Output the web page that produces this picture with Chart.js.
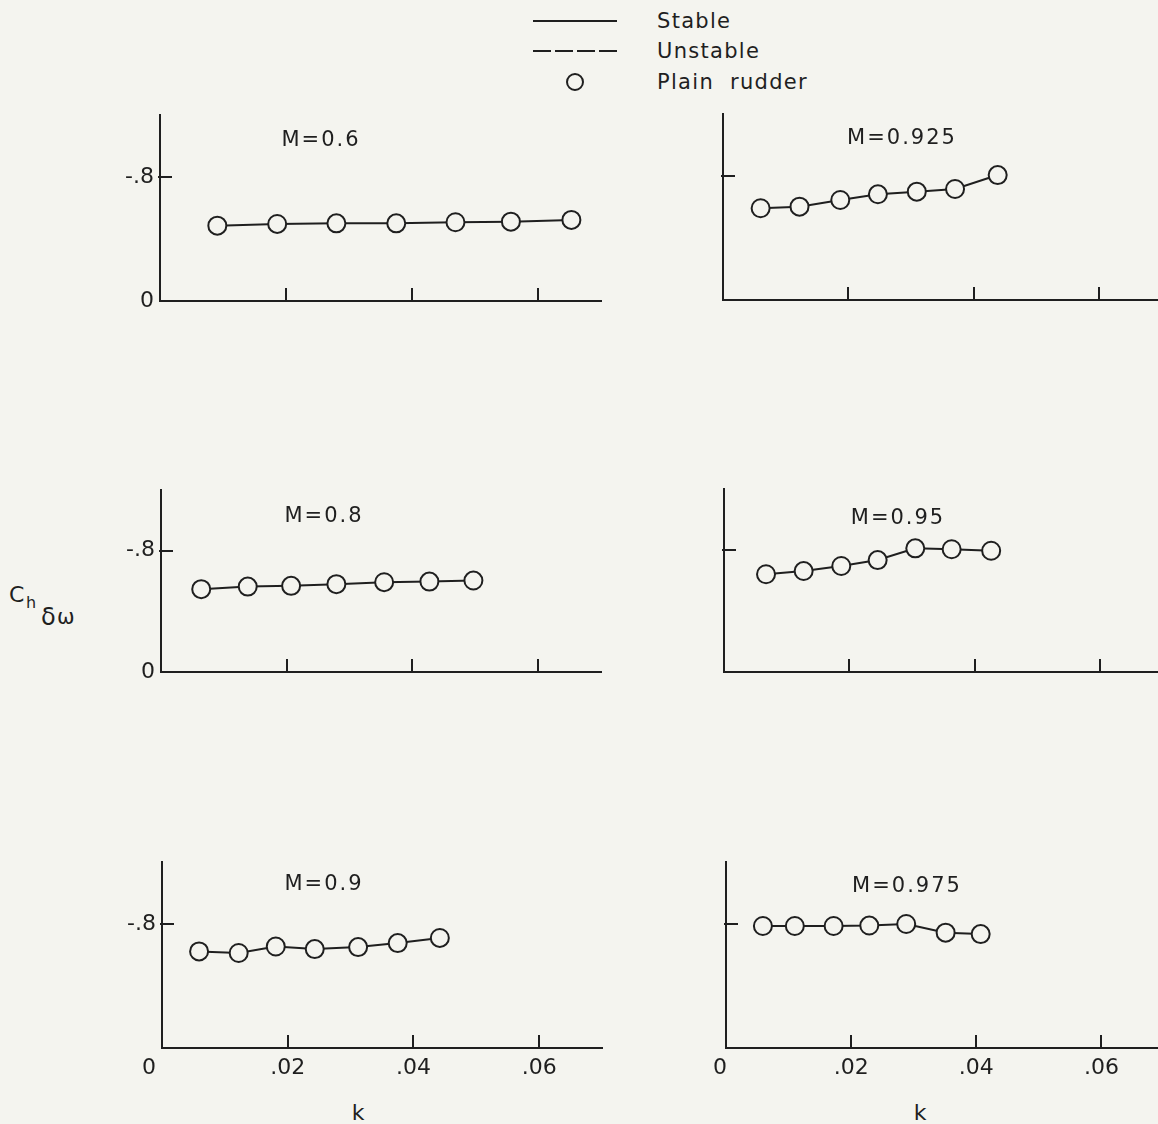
<!DOCTYPE html>
<html>
<head>
<meta charset="utf-8">
<title>Ch δω against k</title>
<script src="https://cdn.jsdelivr.net/npm/chart.js@4.4.1/dist/chart.umd.min.js"></script>
<style>
  html, body { margin: 0; padding: 0; background: #f4f4ef; overflow: hidden; }
  #page { position: relative; width: 1158px; height: 1124px; overflow: hidden;
          font-family: "DejaVu Sans", sans-serif; color: #1f1f1f; }
  #page canvas { position: absolute; }
  .txt { position: absolute; white-space: nowrap; line-height: 1; }
  .title { font-size: 21px; letter-spacing: 2px; transform: translate(-50%, -50%); }
  .key { font-size: 21px; letter-spacing: 1.3px; word-spacing: 8px; transform: translateY(-50%); }
  .axis-name { font-size: 22px; transform: translate(-50%, -50%); }
  .key-line { position: absolute; width: 84px; height: 2px; background: #1f1f1f; }
  .key-dash { position: absolute; width: 84px; height: 2px;
              background: repeating-linear-gradient(90deg, #1f1f1f 0 18px, transparent 18px 22px); }
  .key-dot { position: absolute; width: 14px; height: 14px; border: 2px solid #1f1f1f; border-radius: 50%; }
</style>
</head>
<body>
<div id="page">
  <!-- key -->
  <div class="key-line" style="left:533px; top:20px"></div>
  <div class="key-dash" style="left:533px; top:50px"></div>
  <div class="key-dot" style="left:566px; top:73px"></div>
  <div class="txt key" style="left:657px; top:21px">Stable</div>
  <div class="txt key" style="left:657px; top:51px">Unstable</div>
  <div class="txt key" style="left:657px; top:82px">Plain rudder</div>

  <!-- y axis name: C h δω -->
  <div class="txt" style="left:9px; top:584px; font-size:22px">C</div>
  <div class="txt" style="left:26px; top:595px; font-size:16px">h</div>
  <div class="txt" style="left:41px; top:605px; font-size:24px">δ</div>
  <div class="txt" style="left:57px; top:607px; font-size:21px">ω</div>

  <!-- x axis names -->
  <div class="txt axis-name" style="left:358px; top:1113px">k</div>
  <div class="txt axis-name" style="left:920px; top:1113px">k</div>
</div>

<script>
// reduced frequency k and hinge-moment derivative for each Mach number
const kM060 = [0.0091, 0.0186, 0.0280, 0.0375, 0.0469, 0.0557, 0.0653];
const chM060 = [-0.486, -0.497, -0.501, -0.501, -0.508, -0.512, -0.523];

const kM0925 = [0.0060, 0.0122, 0.0187, 0.0247, 0.0309, 0.0370, 0.0438];
const chM0925 = [-0.592, -0.602, -0.645, -0.682, -0.699, -0.716, -0.806];

const kM080 = [0.0064, 0.0138, 0.0207, 0.0279, 0.0355, 0.0427, 0.0497];
const chM080 = [-0.546, -0.563, -0.568, -0.579, -0.592, -0.596, -0.603];

const kM095 = [0.0067, 0.0127, 0.0187, 0.0245, 0.0305, 0.0363, 0.0426];
const chM095 = [-0.641, -0.662, -0.695, -0.734, -0.811, -0.805, -0.795];

const kM090 = [0.0059, 0.0122, 0.0181, 0.0243, 0.0312, 0.0375, 0.0442];
const chM090 = [-0.623, -0.613, -0.655, -0.638, -0.651, -0.677, -0.710];

const kM0975 = [0.0059, 0.0110, 0.0172, 0.0229, 0.0288, 0.0351, 0.0407];
const chM0975 = [-0.787, -0.787, -0.787, -0.790, -0.800, -0.744, -0.735];

// axis ticks
const kTicks = [0.02, 0.04, 0.06];
const chTicks = [-0.8, 0];
const kMax = 0.07;
const chMin = -1.2;

const ink = "#1f1f1f";
const paper = "#f4f4ef";

Chart.defaults.font.family = '"DejaVu Sans", sans-serif';
Chart.defaults.font.size = 22;
Chart.defaults.color = ink;

// area = [left, top, right, bottom] of the plot box on the page
const panels = [
  { mach: "0.6",   k: kM060,  ch: chM060,  area: [160, 115, 601, 301],  titleAt: [321, 139], yLabels: true,  xLabels: false },
  { mach: "0.925", k: kM0925, ch: chM0925, area: [723, 114, 1162, 300], titleAt: [902, 137], yLabels: false, xLabels: false },
  { mach: "0.8",   k: kM080,  ch: chM080,  area: [161, 490, 601, 672],  titleAt: [324, 515], yLabels: true,  xLabels: false },
  { mach: "0.95",  k: kM095,  ch: chM095,  area: [724, 489, 1163, 672], titleAt: [898, 517], yLabels: false, xLabels: false },
  { mach: "0.9",   k: kM090,  ch: chM090,  area: [162, 862, 602, 1048], titleAt: [324, 883], yLabels: true,  xLabels: true, zeroShift: 13 },
  { mach: "0.975", k: kM0975, ch: chM0975, area: [726, 862, 1164, 1048], titleAt: [907, 885], yLabels: false, xLabels: true, zeroShift: 6 }
];

// tick marks point inward from the axes
const innerTicks = {
  id: "innerTicks",
  afterDraw(chart) {
    const { ctx, chartArea, scales } = chart;
    ctx.save();
    ctx.strokeStyle = ink;
    ctx.lineWidth = 2;
    ctx.beginPath();
    kTicks.forEach((v) => {
      const px = Math.round(scales.x.getPixelForValue(v));
      ctx.moveTo(px, chartArea.bottom);
      ctx.lineTo(px, chartArea.bottom - 13);
    });
    const py = Math.round(scales.y.getPixelForValue(-0.8));
    ctx.moveTo(chartArea.left - 2, py);
    ctx.lineTo(chartArea.left + 12, py);
    ctx.stroke();
    ctx.restore();
  }
};

// the "0" under the origin sits a little left of the corner
const originLabel = {
  id: "originLabel",
  afterDraw(chart, args, opts) {
    if (!opts.display) return;
    const { ctx, chartArea } = chart;
    ctx.save();
    ctx.font = '22px "DejaVu Sans", sans-serif';
    ctx.fillStyle = ink;
    ctx.textAlign = "center";
    ctx.textBaseline = "middle";
    ctx.fillText("0", chartArea.left - opts.shift, chartArea.bottom + 7 + 13.2);
    ctx.restore();
  }
};

const page = document.getElementById("page");
const yW = 70, xH = 50, padT = 20, padR = 20;

function shortNum(v) {
  if (v === 0) return "0";
  return String(v).replace("0.", ".");
}

function makePanel(p) {
  const [L, T, R, B] = p.area;
  const canvas = document.createElement("canvas");
  canvas.width = R - L + yW + padR;
  canvas.height = B - T + padT + xH;
  canvas.style.left = L - yW + "px";
  canvas.style.top = T - padT + "px";
  page.appendChild(canvas);

  const title = document.createElement("div");
  title.className = "txt title";
  title.style.left = p.titleAt[0] + "px";
  title.style.top = p.titleAt[1] + "px";
  title.textContent = "M=" + p.mach;
  page.appendChild(title);

  return new Chart(canvas, {
    type: "line",
    data: {
      datasets: [{
        label: "Plain rudder",
        data: p.k.map((k, i) => ({ x: k, y: p.ch[i] })),
        borderColor: ink,
        borderWidth: 2,
        tension: 0,
        pointRadius: 9,
        pointHoverRadius: 9,
        pointBorderWidth: 2,
        pointBorderColor: ink,
        pointBackgroundColor: paper,
        clip: false
      }]
    },
    options: {
      responsive: false,
      animation: false,
      events: [],
      layout: { padding: { top: padT, right: padR, left: 0, bottom: 0 } },
      plugins: {
        legend: { display: false },
        tooltip: { enabled: false },
        originLabel: { display: p.xLabels, shift: p.zeroShift || 0 }
      },
      scales: {
        x: {
          type: "linear",
          min: 0,
          max: kMax,
          grid: { display: false, drawTicks: false },
          border: { display: true, color: ink, width: 2 },
          afterBuildTicks: (s) => { s.ticks = kTicks.map((v) => ({ value: v })); },
          afterFit: (s) => { s.height = xH; s.paddingLeft = 0; s.paddingRight = 0; },
          ticks: { display: p.xLabels, padding: 7, maxRotation: 0, autoSkip: false, callback: shortNum }
        },
        y: {
          type: "linear",
          min: chMin,
          max: 0,
          reverse: true,
          grid: { display: false, drawTicks: false },
          border: { display: true, color: ink, width: 2 },
          afterBuildTicks: (s) => {
            const vals = p.xLabels ? [-0.8] : chTicks;
            s.ticks = vals.map((v) => ({ value: v }));
          },
          afterFit: (s) => { s.width = yW; s.paddingTop = 0; s.paddingBottom = 0; },
          ticks: { display: p.yLabels, padding: 6, autoSkip: false, callback: shortNum }
        }
      }
    },
    plugins: [innerTicks, originLabel]
  });
}

panels.forEach(makePanel);
</script>
</body>
</html>
